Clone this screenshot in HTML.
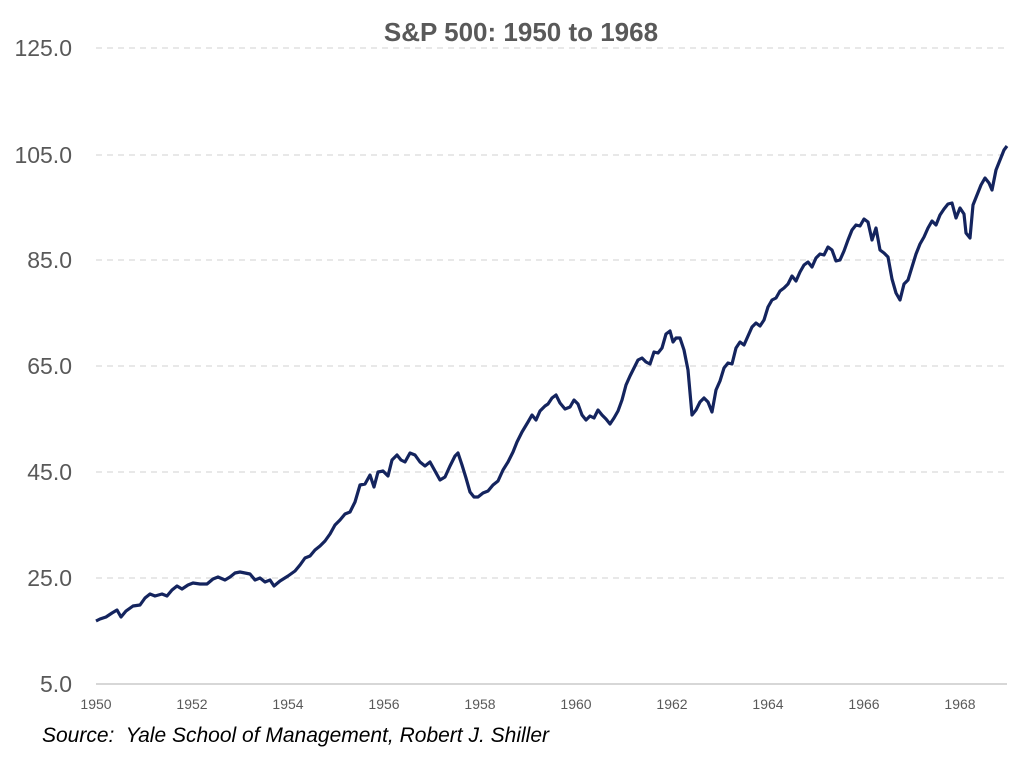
<!DOCTYPE html>
<html><head><meta charset="utf-8"><style>
body{margin:0;background:#fff;}
svg text{font-family:"Liberation Sans",sans-serif;fill:#595959;}
</style></head><body>
<svg width="1028" height="761" viewBox="0 0 1028 761" xmlns="http://www.w3.org/2000/svg">
<text x="521" y="41" text-anchor="middle" font-size="26" font-weight="bold">S&amp;P 500: 1950 to 1968</text>
<g stroke="#d9d9d9" stroke-width="1.3" stroke-dasharray="6,5">
<line x1="96" y1="48" x2="1007" y2="48"/>
<line x1="96" y1="155" x2="1007" y2="155"/>
<line x1="96" y1="260" x2="1007" y2="260"/>
<line x1="96" y1="366" x2="1007" y2="366"/>
<line x1="96" y1="472" x2="1007" y2="472"/>
<line x1="96" y1="578" x2="1007" y2="578"/>
</g>
<line x1="96" y1="684" x2="1007" y2="684" stroke="#bfbfbf" stroke-width="1.3"/>
<g font-size="23" text-anchor="end">
<text x="72" y="56">125.0</text>
<text x="72" y="163">105.0</text>
<text x="72" y="268">85.0</text>
<text x="72" y="374">65.0</text>
<text x="72" y="480">45.0</text>
<text x="72" y="586">25.0</text>
<text x="72" y="692">5.0</text>
</g>
<g font-size="14" text-anchor="middle">
<text x="96" y="709">1950</text><text x="192" y="709">1952</text><text x="288" y="709">1954</text>
<text x="384" y="709">1956</text><text x="480" y="709">1958</text><text x="576" y="709">1960</text>
<text x="672" y="709">1962</text><text x="768" y="709">1964</text><text x="864" y="709">1966</text>
<text x="960" y="709">1968</text>
</g>
<text x="42" y="742" font-size="21" font-style="italic" style="fill:#000;white-space:pre" xml:space="preserve">Source:  Yale School of Management, Robert J. Shiller</text>
<polyline fill="none" stroke="#14245e" stroke-width="3.2" stroke-linejoin="round" points="96,621 100,619 106,617 112,613 117,610 121,617 126,611 133,606 140,605 145,598 150,594 155,596 162,594 167,596 172,590 177,586 182,589 188,585 193,583 200,584 207,584 213,579 218,577 225,580 230,577 235,573 240,572 245,573 250,574 255,580 260,578 265,582 270,580 274,586 280,581 288,576 295,571 300,565 305,558 310,556 315,550 320,546 325,541 330,534 335,525 340,520 345,514 350,512 355,502 360,485 365,484 370,475 374,487 378,472 383,471 388,476 392,460 397,455 401,460 405,462 410,453 415,455 420,462 425,466 430,462 435,471 440,480 445,477 450,466 455,456 458,453 462,465 466,478 470,492 474,497 478,497 483,493 488,491 493,485 498,481 503,470 508,462 513,452 517,442 522,432 528,422 532,415 536,420 540,411 545,406 548,404 552,398 556,395 560,403 565,409 570,407 574,400 578,404 582,415 586,420 590,416 594,418 598,410 602,415 606,419 610,424 614,418 618,411 622,400 626,385 630,376 634,368 638,360 642,358 646,362 650,364 654,352 658,353 662,348 666,334 670,331 673,342 676,338 680,338 684,350 688,370 692,415 696,410 700,402 704,398 708,402 712,412 716,390 720,381 724,368 728,363 732,364 736,348 740,342 744,345 748,336 752,327 756,323 760,326 764,320 768,307 772,300 776,298 780,291 784,288 788,284 792,276 796,281 800,272 804,265 808,262 812,267 816,258 820,254 824,255 828,247 832,250 836,261 840,260 844,251 848,240 852,230 856,225 860,226 864,219 868,222 872,240 876,228 880,250 884,253 888,257 892,279 896,293 900,300 904,284 908,280 912,267 916,254 920,244 924,237 928,228 932,221 936,225 940,215 944,209 948,204 952,203 956,218 960,208 964,214 966,233 970,238 973,205 977,195 981,185 985,178 989,183 992,190 996,170 1000,160 1004,150 1007,146"/>
</svg>
</body></html>
